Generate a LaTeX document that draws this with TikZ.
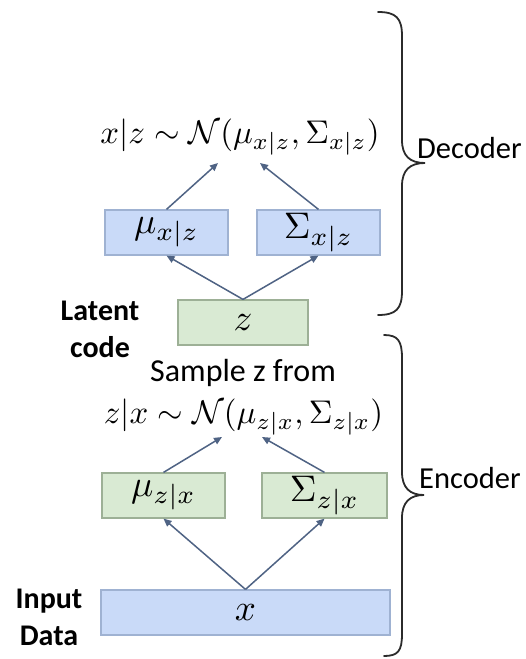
\documentclass[tikz,border=0pt]{standalone}
\usepackage{fontspec}
\usepackage{graphicx}
\setmainfont{Carlito}
\usetikzlibrary{arrows.meta}
\definecolor{bluefill}{HTML}{C9DAF8}
\definecolor{blueedge}{HTML}{9FB2D2}
\definecolor{greenfill}{HTML}{D9EAD3}
\definecolor{greenedge}{HTML}{9DB096}
\definecolor{arrowcol}{HTML}{4F6384}
\definecolor{bracecol}{HTML}{2B2B2B}
\newcommand{\fml}[1]{\scalebox{3.28}{$#1$}}
\newcommand{\bxl}[1]{\scalebox{3.7}{$#1$}}
\begin{document}
\begin{tikzpicture}[x=1pt,y=-1pt,
  bluebox/.style={draw=blueedge,fill=bluefill,line width=1.2pt,minimum height=45pt,inner sep=0pt},
  greenbox/.style={draw=greenedge,fill=greenfill,line width=1.2pt,minimum height=45pt,inner sep=0pt},
  formula/.style={inner sep=0pt},
  sidetext/.style={font=\fontsize{32}{38}\selectfont,inner sep=0pt},
  sidelabel/.style={font=\fontsize{30.5}{37}\selectfont,inner sep=0pt},
  boldtext/.style={font=\fontsize{30}{37}\selectfont\bfseries,align=center,inner sep=0pt},
  conn/.style={draw=arrowcol,line width=1.5pt,-{Triangle[length=8pt,width=7pt]}},
  bracestyle/.style={draw=bracecol,line width=1.8pt,line cap=round}]
\useasboundingbox[fill=white] (0,0) rectangle (526,659);

% decoder part
\node[formula] (fdec) at (240,137) {\fml{x|z \sim \mathcal{N}(\mu_{x|z}, \Sigma_{x|z})}};
\node[bluebox,minimum width=123pt] (mudec) at (166.5,232.5) {\bxl{\mu_{x|z}}};
\node[bluebox,minimum width=123pt] (sigdec) at (318.5,232.5) {\bxl{\Sigma_{x|z}}};
\node[greenbox,minimum width=130pt] (zbox) at (243,322.5) {\bxl{z}};
\node[boldtext] (latent) at (100,329) {Latent\\code};
\coordinate (tipdecA) at (218,163);
\coordinate (tipdecB) at (260,163);

% encoder part
\node[sidetext] (sample) at (243,373) {Sample z from};
\node[formula] (fenc) at (243.5,417) {\fml{z|x \sim \mathcal{N}(\mu_{z|x}, \Sigma_{z|x})}};
\node[greenbox,minimum width=123pt] (muenc) at (163.5,495.5) {\bxl{\mu_{z|x}}};
\node[greenbox,minimum width=125pt] (sigenc) at (324.5,495.5) {\bxl{\Sigma_{z|x}}};
\node[bluebox,minimum width=289pt] (xbox) at (245.5,612.5) {\bxl{x}};
\node[boldtext] (input) at (49,617) {Input\\Data};
\coordinate (tipencA) at (222,437);
\coordinate (tipencB) at (262,437);

% connectors
\draw[conn] (zbox.north) -- (mudec.south);
\draw[conn] (zbox.north) -- (sigdec.south);
\draw[conn] (mudec.north) -- (tipdecA);
\draw[conn] (sigdec.north) -- (tipdecB);
\draw[conn] (xbox.north) -- (muenc.south);
\draw[conn] (xbox.north) -- (sigenc.south);
\draw[conn] (muenc.north) -- (tipencA);
\draw[conn] (sigenc.north) -- (tipencB);

% braces
\draw[bracestyle] (378,12) .. controls (396,12) and (402,18) .. (402,36)
  -- (402,140) .. controls (402,156) and (410,163) .. (425,163)
  .. controls (410,163) and (402,170) .. (402,186)
  -- (402,291) .. controls (402,309) and (396,315) .. (378,315);
\draw[bracestyle] (384,335) .. controls (398,335) and (402,341) .. (402,358)
  -- (402,472) .. controls (402,488) and (410,495) .. (424,495)
  .. controls (410,495) and (402,502) .. (402,518)
  -- (402,634) .. controls (402,651) and (398,656) .. (384,656);
\node[sidelabel,anchor=west] (dec) at (417,148) {Decoder};
\node[sidelabel,anchor=west] (enc) at (419,478) {Encoder};
\end{tikzpicture}
\end{document}
